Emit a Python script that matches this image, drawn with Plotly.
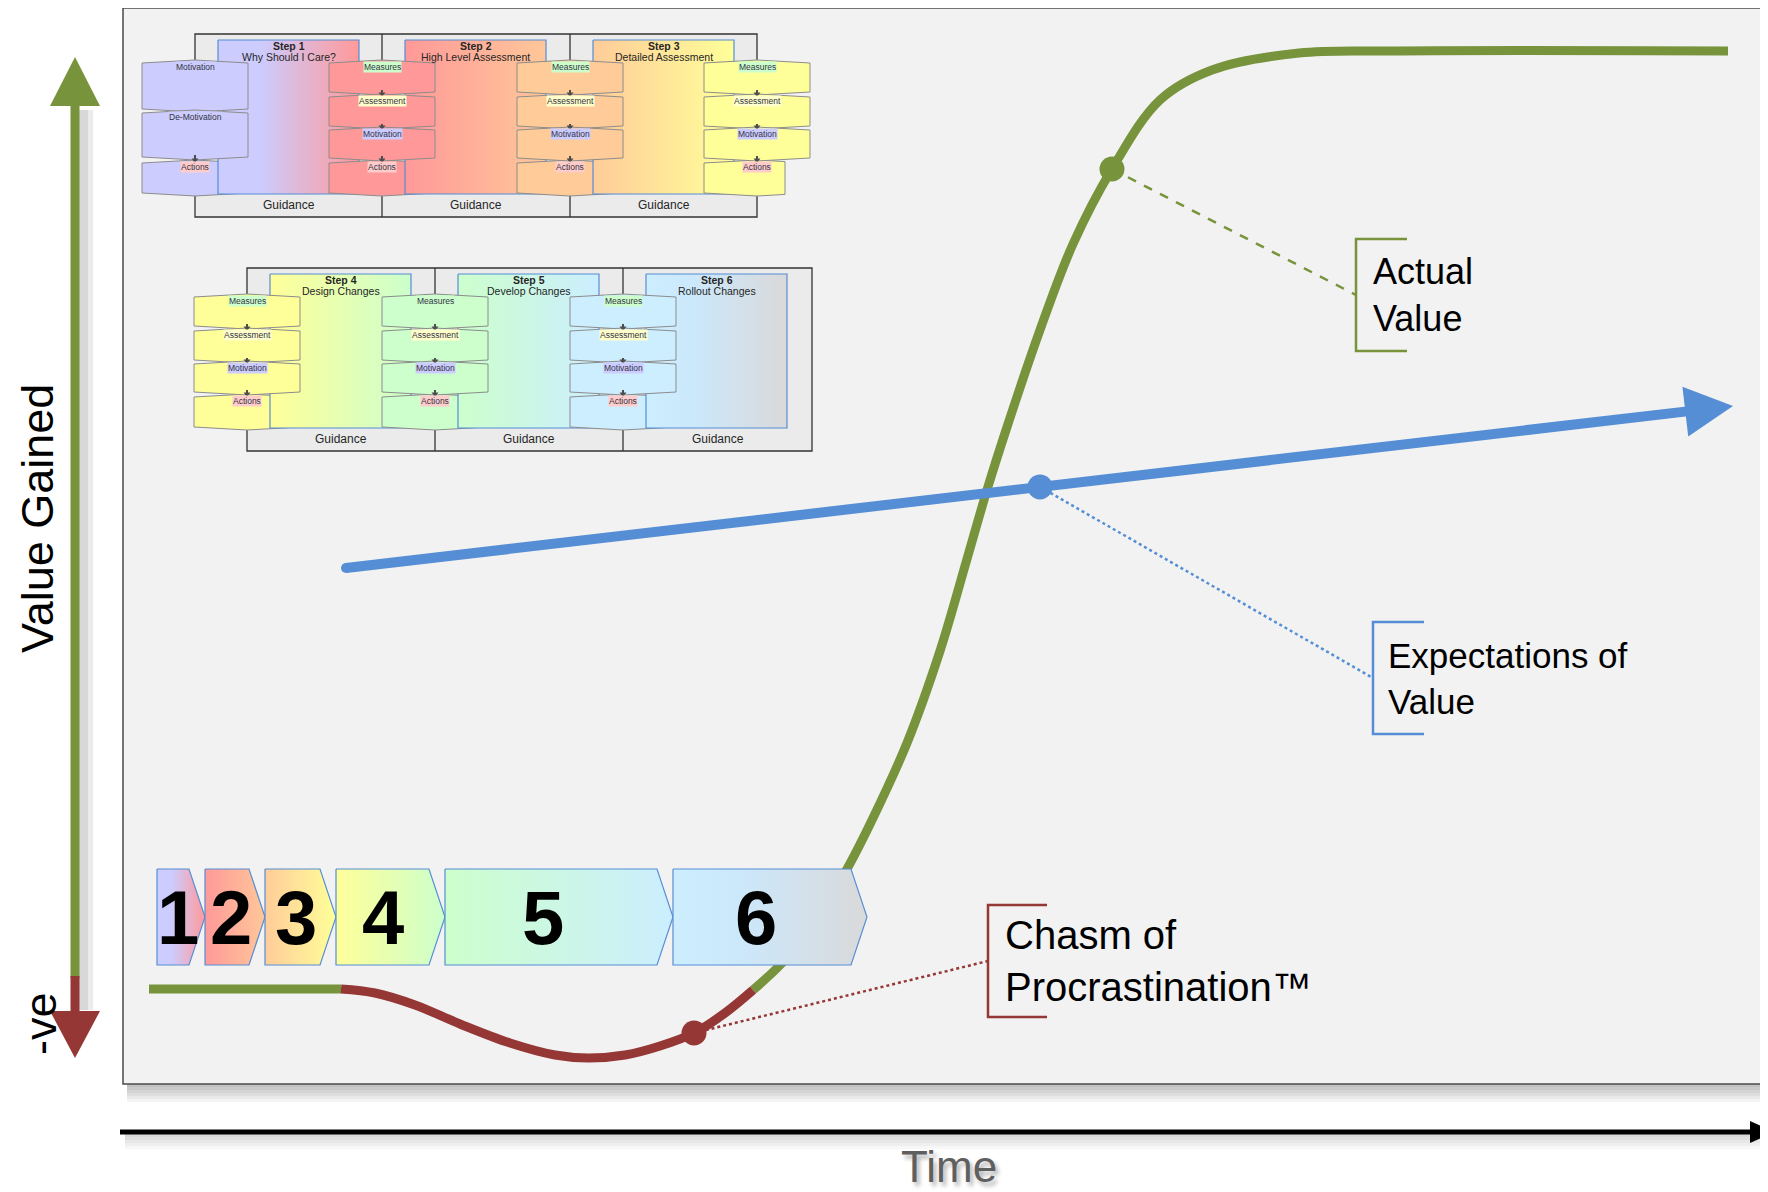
import plotly.graph_objects as go

W, H = 1768, 1192
OFF = 8  # page body margin compensation

# ---------------- data ----------------
# "Actual value" curve (time, value in screen units, larger = lower)
actual_time = [149, 341, 375, 415, 460, 510, 555, 588, 625, 660, 694, 725, 753, 782, 815, 847,
               873, 907, 940, 967, 987, 1007, 1040, 1073, 1112, 1160, 1212, 1299, 1400, 1728]
actual_value = [989, 989, 993, 1005, 1024, 1043, 1055, 1058, 1055, 1046, 1033, 1013, 990, 963, 922, 869,
                818, 743, 651, 559, 490, 427, 330, 244, 169, 100, 70, 53, 51, 51]
chasm_start, chasm_end = 341, 753

# "Expectations of value" straight arrow
expect_time = [346, 1733]
expect_value = [568, 406]

# callout anchor times
actual_marker_t = 1112
expect_marker_t = 1040
chasm_marker_t = 694

callout_texts = ["Actual<br>Value", "Expectations of<br>Value", "Chasm of<br>Procrastination™"]

# stages (chevrons on the time axis)
stage_labels = ["1", "2", "3", "4", "5", "6"]
stage_bounds = [157, 205, 265, 336, 445, 673, 867]

step_titles = ["Step 1", "Step 2", "Step 3", "Step 4", "Step 5", "Step 6"]
step_names = ["Why Should I Care?", "High Level Assessment", "Detailed Assessment",
              "Design Changes", "Develop Changes", "Rollout Changes"]
block_labels = ["Measures", "Assessment", "Motivation", "Actions"]
step1_block_labels = ["Motivation", "De-Motivation", "Actions"]
guidance_label = "Guidance"

# ---------------- styles ----------------
GREEN = "#77933c"
RED = "#953735"
BLUE = "#558ed5"
NARROW = "Liberation Sans, Arial, sans-serif"
SANS = "Liberation Sans, Arial, sans-serif"

step_scales = [
    [[0, "#ccccff"], [0.3, "#ccccff"], [1, "#ff9999"]],
    [[0, "#ff9999"], [1, "#ffc799"]],
    [[0, "#ffcc99"], [1, "#ffff99"]],
    [[0, "#ffff99"], [1, "#ccffcc"]],
    [[0, "#ccffcc"], [1, "#cceeff"]],
    [[0, "#cceeff"], [0.35, "#cce8fb"], [1, "#d9d9d9"]],
]
label_bg = {"Measures": "#ccffcc", "Assessment": "#ffffcc", "Motivation": "#ccccff",
            "Actions": "#ffcccc", "De-Motivation": "#ccccff"}

fig = go.Figure()
shapes = []
ann = []


def add_poly(xs, ys, fill=None, line_color="rgba(0,0,0,0)", lw=1.0, grad=None):
    kw = dict(x=list(xs) + [xs[0]], y=list(ys) + [ys[0]], mode="lines", fill="toself",
              line=dict(color=line_color, width=lw), hoverinfo="skip", showlegend=False)
    if grad is not None:
        kw["fillgradient"] = dict(type="horizontal", colorscale=grad, start=min(xs), stop=max(xs))
    else:
        kw["fillcolor"] = fill
    fig.add_trace(go.Scatter(**kw))


def add_line(xs, ys, color, width, dash="solid", shape="linear"):
    fig.add_trace(go.Scatter(x=xs, y=ys, mode="lines", line=dict(color=color, width=width, dash=dash, shape=shape),
                             hoverinfo="skip", showlegend=False))


def text(x, y, t, size, color="#262626", family=NARROW, xanchor="center", yanchor="middle", bg=None, **kw):
    a = dict(x=x, y=y, xref="x", yref="y", text=t, showarrow=False, xanchor=xanchor, yanchor=yanchor,
             font=dict(size=size, color=color, family=family), align="left")
    if bg:
        a["bgcolor"] = bg
        a["borderpad"] = 0
    a.update(kw)
    ann.append(a)


# ---------------- background / panel ----------------
PX0, PY0, PY1 = 123, 8, 1084
for i in range(6):
    shapes.append(dict(type="rect", xref="x", yref="y", x0=PX0 + 4, y0=PY1 - 20, x1=W + 20, y1=PY1 + 3 + 3 * i,
                       fillcolor="rgba(0,0,0,0.045)", line=dict(width=0), layer="below"))
shapes.append(dict(type="rect", xref="x", yref="y", x0=PX0, y0=PY0, x1=W + 20, y1=PY1,
                   fillcolor="#f2f2f2", line=dict(color="#4a4a4a", width=1.5), layer="below"))

# time axis shadow
for i in range(5):
    shapes.append(dict(type="rect", xref="x", yref="y", x0=125, y0=1130, x1=W + 20, y1=1137 + 3 * i,
                       fillcolor="rgba(0,0,0,0.03)", line=dict(width=0), layer="below"))

# ---------------- mini process diagrams ----------------
rows = [
    dict(div=[195, 382, 570, 757], top=34, steps=[0, 1, 2],
         cols=[(195, "#ccccff", True), (382, "#ff9999", False), (570, "#ffcc99", False), (757, "#ffff99", False)]),
    dict(div=[247, 435, 623, 812], top=268, steps=[3, 4, 5],
         cols=[(247, "#ffff99", False), (435, "#ccffcc", False), (623, "#cceeff", False)]),
]
HW, D = 53, 3
std_rows = [(29, 58), (63, 92), (96, 124), (129, 159)]
s1_rows = [(29, 75), (79, 123), (129, 159)]


def hexa(cx, y0, y1, cut=None):
    right = cx + HW if cut is None else cx + cut
    f = 1 - (right - cx) / HW
    return ([cx - HW, cx, right, right, cx, cx - HW],
            [y0, y0 - D, y0 - D * f, y1 + D * f, y1 + D, y1])


for r in rows:
    top = r["top"]
    shapes.append(dict(type="rect", xref="x", yref="y", x0=r["div"][0], y0=top, x1=r["div"][-1], y1=top + 183,
                       fillcolor="#ebebeb", line=dict(color="#333333", width=1.3), layer="below"))
    for dx in r["div"][1:-1]:
        shapes.append(dict(type="line", xref="x", yref="y", x0=dx, y0=top, x1=dx, y1=top + 183,
                           line=dict(color="#333333", width=1.3), layer="below"))


def actions_block(r, ci):
    cx, col, is_s1 = r["cols"][ci]
    yy = (s1_rows if is_s1 else std_rows)[-1]
    cut = 28 if ci == 3 else None
    xs, ys = hexa(cx, r["top"] + yy[0], r["top"] + yy[1], cut)
    add_poly(xs, ys, fill=col, line_color="#8c8c8c", lw=1)


# Actions blocks interleaved with the step panels (each sits above the panel on its left,
# below the panel on its right)
for r in rows:
    top = r["top"]
    for k, si in enumerate(r["steps"]):
        actions_block(r, k)
        x0 = r["div"][k] + 23
        x1 = x0 + 141
        add_poly([x0, x1, x1, x0], [top + 6, top + 6, top + 160, top + 160], grad=step_scales[si],
                 line_color=BLUE, lw=1.2)
        cxm = (x0 + x1) / 2
        text(cxm, top + 12, "<b>" + step_titles[si] + "</b>", 10.5)
        text(cxm, top + 23, step_names[si], 10.5)
        text((r["div"][k] + r["div"][k + 1]) / 2, top + 171, guidance_label, 12)
    if len(r["cols"]) > len(r["steps"]):
        actions_block(r, len(r["cols"]) - 1)

# other blocks + arrows + labels
arr_x, arr_y, tip_x, tip_y = [], [], [], []
for r in rows:
    top = r["top"]
    for ci, (cx, col, is_s1) in enumerate(r["cols"]):
        rr = s1_rows if is_s1 else std_rows
        labs = step1_block_labels if is_s1 else block_labels
        for j, (a, b) in enumerate(rr[:-1]):
            xs, ys = hexa(cx, top + a, top + b)
            add_poly(xs, ys, fill=col, line_color="#8c8c8c", lw=1)
        for j, (a, b) in enumerate(rr):
            text(cx, top + a + 4, labs[j], 8.5, color="#333344", bg=label_bg[labs[j]])
            if j > 0 and not (is_s1 and j == 1):
                pb = rr[j - 1][1]
                arr_x += [cx, cx, None]
                arr_y += [top + pb - 2, top + a - 3, None]
                tip_x.append(cx)
                tip_y.append(top + a - 3)
fig.add_trace(go.Scatter(x=arr_x, y=arr_y, mode="lines", line=dict(color="#4d4d4d", width=2),
                         hoverinfo="skip", showlegend=False))
fig.add_trace(go.Scatter(x=tip_x, y=tip_y, mode="markers", marker=dict(symbol="triangle-down", size=6, color="#4d4d4d"),
                         hoverinfo="skip", showlegend=False))

# ---------------- curves ----------------
left_idx = [i for i, t in enumerate(actual_time) if t <= chasm_start]
dip_idx = [i for i, t in enumerate(actual_time) if chasm_start <= t <= chasm_end]
right_idx = [i for i, t in enumerate(actual_time) if t >= chasm_end]
for idx, c in [(left_idx, GREEN), (right_idx, GREEN), (dip_idx, RED)]:
    add_line([actual_time[i] for i in idx], [actual_value[i] for i in idx], c, 9, shape="spline")

# expectations arrow
tx0, tx1 = expect_time
vy0, vy1 = expect_value
L = ((tx1 - tx0) ** 2 + (vy1 - vy0) ** 2) ** 0.5
ux, uy = (tx1 - tx0) / L, (vy1 - vy0) / L
bx, by = tx1 - 48 * ux, vy1 - 48 * uy
add_line([tx0, bx + 4 * ux], [vy0, by + 4 * uy], BLUE, 10)
fig.add_trace(go.Scatter(x=[tx0], y=[vy0], mode="markers", marker=dict(size=10, color=BLUE),
                         hoverinfo="skip", showlegend=False))
add_poly([tx1, bx - 25 * uy, bx + 25 * uy], [vy1, by + 25 * ux, by - 25 * ux], fill=BLUE, lw=0)


def val_at(t):
    for i in range(len(actual_time) - 1):
        if actual_time[i] <= t <= actual_time[i + 1]:
            f = (t - actual_time[i]) / (actual_time[i + 1] - actual_time[i])
            return actual_value[i] + f * (actual_value[i + 1] - actual_value[i])


ev = vy0 + (expect_marker_t - tx0) * (vy1 - vy0) / (tx1 - tx0)
callouts = [
    (actual_marker_t, val_at(actual_marker_t), GREEN, 1356, 239, 351, 1407, "dash", NARROW, 36, 1371),
    (expect_marker_t, ev, BLUE, 1373, 622, 734, 1424, "dot", NARROW, 35, 1386),
    (chasm_marker_t, val_at(chasm_marker_t), RED, 988, 905, 1017, 1047, "dot", SANS, 40, 1003),
]
for k, (mx, my, c, bxk, b0, b1, bt, dsh, fam, fs, tx) in enumerate(callouts):
    add_line([mx, bxk], [my, (b0 + b1) / 2], c, 2.5, dash=dsh)
    add_line([bt, bxk, bxk, bt], [b0, b0, b1, b1], c, 2.5)
    fig.add_trace(go.Scatter(x=[mx], y=[my], mode="markers", marker=dict(size=25, color=c),
                             hoverinfo="skip", showlegend=False))
    text(tx, (b0 + b1) / 2, callout_texts[k], fs, color="#000000", family=fam, xanchor="left")

# ---------------- stage chevrons ----------------
CY0, CY1 = 869, 965
for i, lab in enumerate(stage_labels):
    x0, tip = stage_bounds[i], stage_bounds[i + 1]
    br = tip - 16
    add_poly([x0, br, tip, br, x0], [CY0, CY0, (CY0 + CY1) / 2, CY1, CY1], grad=step_scales[i],
             line_color=BLUE, lw=1.2)
    text(x0 + 0.43 * (tip - x0), (CY0 + CY1) / 2, "<b>" + lab + "</b>", 76, color="#000000")

# ---------------- value axis arrow ----------------
add_line([85, 85], [110, 1010], "rgba(0,0,0,0.08)", 16)
add_line([83, 83], [110, 1010], "rgba(0,0,0,0.08)", 10)
add_line([75, 75], [100, 978], GREEN, 9)
add_line([75, 75], [976, 1015], RED, 9)
add_poly([50, 100, 75], [106, 106, 57], fill=GREEN)
add_poly([50, 100, 75], [1011, 1011, 1058], fill=RED)

# time axis
add_line([120, 1756], [1132, 1132], "#000000", 5)
add_poly([1750, 1750, 1774], [1121, 1143, 1132], fill="#000000")

# axis titles
text(37, 519, "Value Gained", 45, color="#000000", textangle=-90)
text(40, 1024, "-ve", 45, color="#000000", textangle=-90)
ann.append(dict(x=949, y=1166, xref="x", yref="y", text="Time", showarrow=False, yanchor="middle",
                font=dict(size=44, color="#5f5f5f", family=NARROW, shadow="3px 4px 4px rgba(0,0,0,0.3)")))

fig.update_layout(
    width=W, height=H, margin=dict(l=0, r=0, t=0, b=0),
    paper_bgcolor="#ffffff", plot_bgcolor="#ffffff", showlegend=False,
    xaxis=dict(range=[OFF, W + OFF], visible=False, fixedrange=True),
    yaxis=dict(range=[H + OFF, OFF], visible=False, fixedrange=True),
    shapes=shapes, annotations=ann,
)
fig.write_html("out.html")
